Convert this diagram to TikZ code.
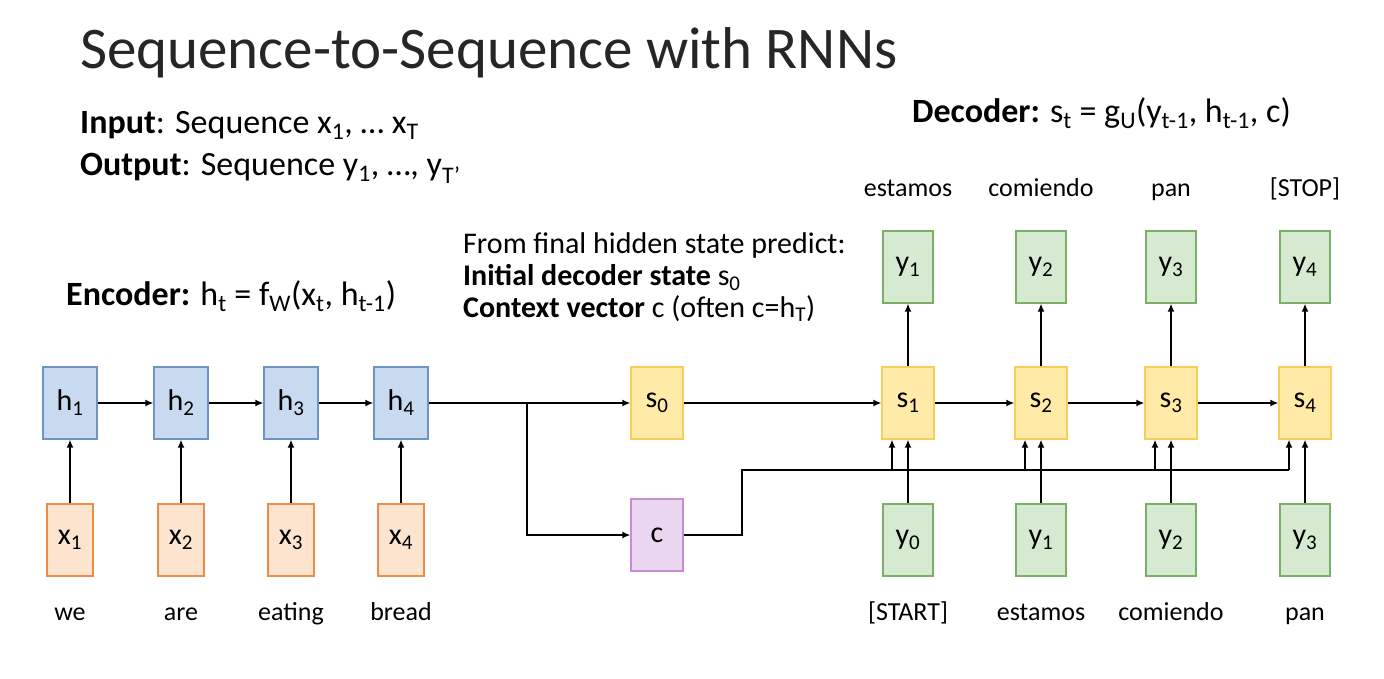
\documentclass[tikz,border=0pt]{standalone}
\usepackage{fontspec}
\setmainfont{Carlito}
\usepackage{tikz}
\usetikzlibrary{positioning,arrows.meta,calc}
\definecolor{encfill}{RGB}{199,218,240}
\definecolor{encdraw}{RGB}{110,148,198}
\definecolor{inpfill}{RGB}{252,228,206}
\definecolor{inpdraw}{RGB}{236,140,72}
\definecolor{decfill}{RGB}{255,234,168}
\definecolor{decdraw}{RGB}{248,205,90}
\definecolor{ctxfill}{RGB}{234,214,240}
\definecolor{ctxdraw}{RGB}{200,140,212}
\definecolor{outfill}{RGB}{214,234,210}
\definecolor{outdraw}{RGB}{122,176,102}
\newcommand{\sub}[1]{\textsubscript{#1}}

\begin{document}
\begin{tikzpicture}[x=1pt, y=-1pt,
  box/.style   = {rectangle, line width=1.2pt, minimum width=52pt,
                  minimum height=72pt, inner sep=0pt,
                  font=\fontsize{30}{32}\selectfont},
  enc/.style   = {box, fill=encfill, draw=encdraw, minimum width=54pt},
  inp/.style   = {box, fill=inpfill, draw=inpdraw, minimum width=46pt},
  dec/.style   = {box, fill=decfill, draw=decdraw},
  ctx/.style   = {box, fill=ctxfill, draw=ctxdraw},
  outp/.style  = {box, fill=outfill, draw=outdraw, minimum width=50pt},
  word/.style  = {anchor=base, font=\fontsize{26}{28}\selectfont},
  txt/.style   = {anchor=base west, inner sep=0pt, font=\fontsize{30}{32}\selectfont},
  big/.style   = {txt, font=\fontsize{34}{36}\selectfont},
  arr/.style   = {-{Latex[length=8pt,width=7pt]}, line width=1.8pt},
  wire/.style  = {line width=1.8pt}
]
\fill[white] (0,0) rectangle (1384,678);
\useasboundingbox (0,0) rectangle (1384,678);

% texts
\node[anchor=base west, inner sep=0pt, text=black!85,
      font=\fontsize{59}{62}\selectfont]
  (title) at (80,68) {Sequence-to-Sequence with RNNs};
\node[big] (in-txt) at (80,133)
  {\textbf{Input}: Sequence x\sub{1}, \dots\ x\sub{T}};
\node[big] (out-txt) at (80,175)
  {\textbf{Output}: Sequence y\sub{1}, \dots, y\sub{T'}};
\node[big] (dec-txt) at (912,122)
  {\textbf{Decoder:} s\sub{t} = g\sub{U}(y\sub{t-1}, h\sub{t-1}, c)};
\node[big] (enc-txt) at (66,305)
  {\textbf{Encoder:} h\sub{t} = f\sub{W}(x\sub{t}, h\sub{t-1})};
\node[txt] (pred-1) at (463,253) {From final hidden state predict:};
\node[txt] (pred-2) at (463,285) {\textbf{Initial decoder state} s\sub{0}};
\node[txt] (pred-3) at (463,317) {\textbf{Context vector} c (often c=h\sub{T})};

% encoder
\foreach \i/\x/\w in {1/70/we, 2/181/are, 3/291/eating, 4/401/bread}{
  \node[enc] (h\i) at (\x,403) {h\sub{\i}};
  \node[inp] (x\i) at (\x,540) {x\sub{\i}};
  \node[word] (xw\i) at (\x,620) {\w};
  \draw[arr] (x\i.north) -- (h\i.south);
}
\foreach \a/\b in {1/2, 2/3, 3/4}{
  \draw[arr] (h\a.east) -- (h\b.west);
}

% bridge
\node[dec] (s0) at (657,403) {s\sub{0}};
\node[ctx] (c)  at (657,535) {c};
\coordinate (split) at (527,403);
\draw[arr] (h4.east) -- (s0.west);
\draw[arr] (split) |- (c.west);

% decoder
\foreach \i/\x/\o/\w in {1/908/estamos/[START], 2/1041/comiendo/estamos,
                         3/1171/pan/comiendo, 4/1305/[STOP]/pan}{
  \node[dec] (s\i) at (\x,403) {s\sub{\i}};
  \node[outp] (yo\i) at (\x,267) {y\sub{\i}};
  \node[word] (yow\i) at (\x,196) {\o};
  \pgfmathtruncatemacro{\j}{\i-1}
  \node[outp] (yi\i) at (\x,540) {y\sub{\j}};
  \node[word] (yiw\i) at (\x,620) {\w};
  \draw[arr] (s\i.north) -- (yo\i.south);
  \draw[arr] (yi\i.north) -- (s\i.south);
}
\foreach \a/\b in {0/1, 1/2, 2/3, 3/4}{
  \draw[arr] (s\a.east) -- (s\b.west);
}

% context bus
\coordinate (bus) at (742,470);
\draw[wire] (c.east) -| (bus) -- ([xshift=-16pt]s4.south |- bus);
\foreach \i in {1,...,4}{
  \draw[arr] ([xshift=-16pt]s\i.south |- bus) -- ([xshift=-16pt]s\i.south);
}
\end{tikzpicture}
\end{document}
